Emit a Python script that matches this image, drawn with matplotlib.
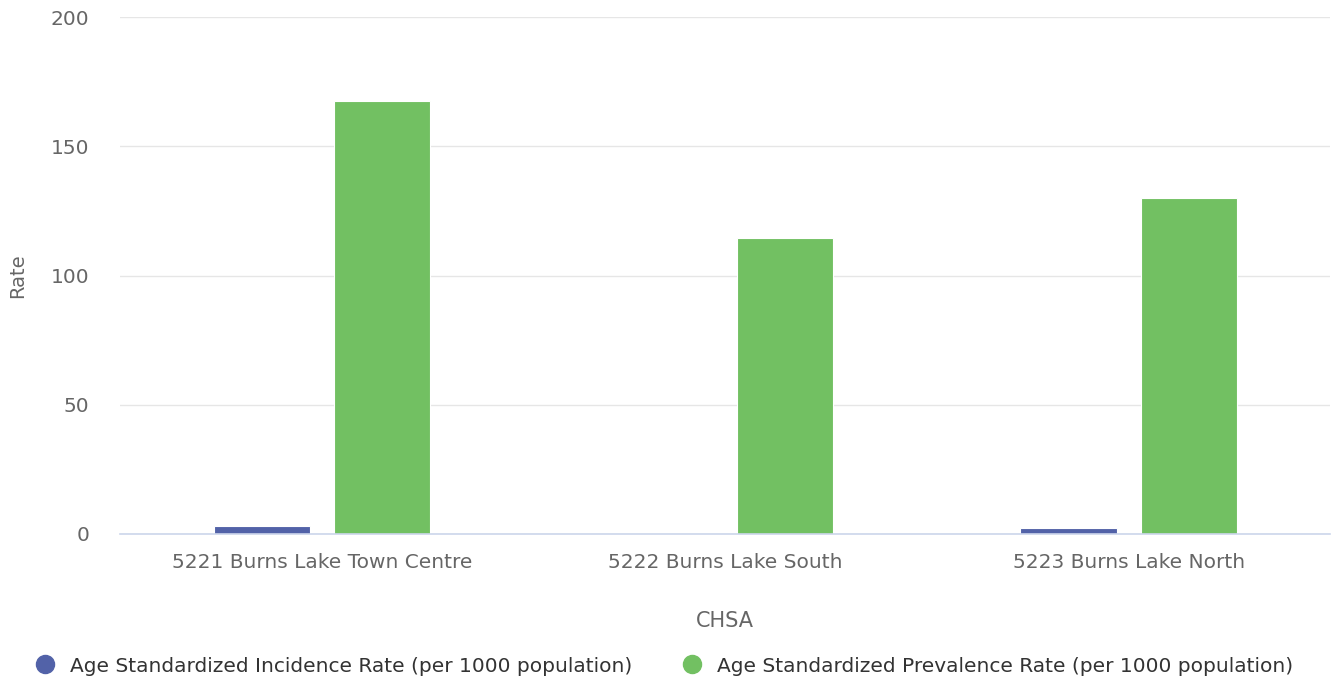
import matplotlib.pyplot as plt
import numpy as np
from matplotlib.lines import Line2D

# chart data
categories = ['5221 Burns Lake Town Centre', '5222 Burns Lake South', '5223 Burns Lake North']
incidence = [3.1, 0, 2.2]
prevalence = [167.5, 114.5, 130.0]
series_names = ['Age Standardized Incidence Rate (per 1000 population)',
                'Age Standardized Prevalence Rate (per 1000 population)']
colors = ['#5262a8', '#72c062']

fig = plt.figure(figsize=(13.33, 6.81), dpi=100)
ax = fig.add_axes([0.09, 0.2159, 0.908, 0.759])

x = np.arange(len(categories))
w = 0.238
ax.bar(x - 0.149, incidence, w, color=colors[0], edgecolor='white', linewidth=0.8, zorder=3)
ax.bar(x + 0.149, prevalence, w, color=colors[1], edgecolor='white', linewidth=0.8, zorder=3)

ax.set_xlim(-0.5, 2.5)
ax.set_ylim(0, 200)
ax.set_yticks([0, 50, 100, 150, 200])
ax.set_xticks(x)
ax.set_xticklabels(categories)
ax.tick_params(axis='both', length=0, labelsize=14.5, colors='#666666')
ax.tick_params(axis='x', pad=14)
ax.tick_params(axis='y', pad=22)

ax.grid(axis='y', color='#e6e6e6', linewidth=1, zorder=0)
for s in ['top', 'right', 'left']:
    ax.spines[s].set_visible(False)
ax.spines['bottom'].set_color('#ccd6eb')
ax.spines['bottom'].set_linewidth(1.2)
ax.spines['bottom'].set_zorder(4)

ax.set_ylabel('Rate', fontsize=14, color='#666666', labelpad=17)
ax.set_xlabel('CHSA', fontsize=15, color='#666666', labelpad=28)

handles = [Line2D([0], [0], marker='o', linestyle='', markersize=13,
                  markerfacecolor=c, markeredgecolor=c) for c in colors]
leg = fig.legend(handles, series_names, loc='center', bbox_to_anchor=(0.498, 0.022),
                 ncol=2, frameon=False, fontsize=14.5,
                 handletextpad=0.75, columnspacing=2.45, handlelength=1.0)
for t in leg.get_texts():
    t.set_color('#333333')

fig.savefig('out.png', dpi=100)
